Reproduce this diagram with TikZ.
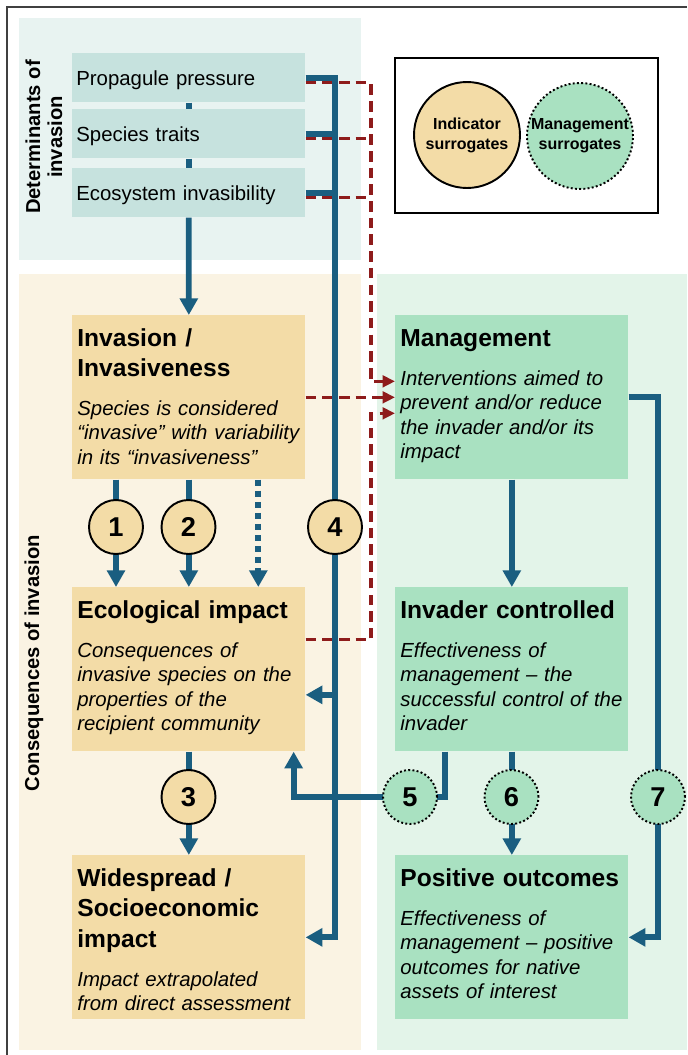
\documentclass[tikz,border=0pt]{standalone}
\usepackage{fontspec}
\setmainfont{Liberation Sans}
\usetikzlibrary{arrows.meta,calc}
\definecolor{flowblue}{HTML}{1A5E80}
\definecolor{depred}{HTML}{8E1B1B}
\definecolor{detbg}{HTML}{E8F3F1}
\definecolor{detbox}{HTML}{C6E2DE}
\definecolor{conbg}{HTML}{FAF3E3}
\definecolor{conbox}{HTML}{F3DCA7}
\definecolor{mgtbg}{HTML}{E3F4E9}
\definecolor{mgtbox}{HTML}{A9E1C1}
\pgfdeclarelayer{back}
\pgfdeclarelayer{wires}
\pgfsetlayers{back,wires,main}
\begin{document}
\begin{tikzpicture}[x=0.02cm,y=-0.02cm,line join=miter,
	>={Triangle[length=9.5pt,width=10pt]},
	flow/.style={draw=flowblue,line width=3.3pt},
	dep/.style={draw=depred,line width=1.8pt,dash pattern=on 6pt off 3.5pt,>={Triangle[length=7pt,width=6.5pt]}},
	detnode/.style={fill=detbox,anchor=north west,text width=4.5cm,align=left,inner xsep=0.08cm,inner ysep=0pt,minimum height=0.98cm,text height=8.3pt,text depth=0pt,font=\fontsize{11.6}{14}\selectfont},
	stage/.style={anchor=north west,minimum width=4.66cm,minimum height=3.28cm,inner sep=0pt},
	ttl/.style={anchor=base west,inner sep=0pt,text width=4.7cm,align=left,font=\fontsize{14}{17.5}\selectfont\bfseries},
	txt/.style={anchor=base west,inner sep=0pt,text width=4.7cm,align=left,font=\fontsize{11.6}{14}\selectfont\itshape},
	ind/.style={circle,draw=black,line width=1.1pt,fill=conbox,minimum size=1.08cm,inner sep=0pt,font=\fontsize{15.5}{16}\selectfont\bfseries},
	mng/.style={ind,fill=mgtbox,dash pattern=on 1.1pt off 1.3pt},
	keytext/.style={minimum size=2.12cm,align=center,font=\fontsize{9.1}{11.4}\selectfont\bfseries},
	side/.style={rotate=90,align=center,font=\fontsize{11.5}{12.5}\selectfont\bfseries}]
	\useasboundingbox (0,0) rectangle (687,1055);
	\begin{pgfonlayer}{back}
		\fill[detbg] (19,18) rectangle (361,260);
		\fill[conbg] (19,274) rectangle (361,1050);
		\fill[mgtbg] (377,274) rectangle (687,1050);
		\draw[line width=1.2pt,black!75] (7,1055) -- (7,7) -- (687,7);
	\end{pgfonlayer}
	
	\node[side] (detL) at (44,137) {Determinants of\\invasion};
	\node[side] (conL) at (34,663) {Consequences of invasion};
	
	\node[detnode] (pp) at (72,53) {Propagule pressure};
	\node[detnode] (st) at (72,109) {Species traits};
	\node[detnode] (ei) at (72,168) {Ecosystem invasibility};
	
	\node[draw,line width=1.3pt,minimum width=5.26cm,minimum height=3.1cm] (key) at (526.5,135.5) {};
	\node[ind,keytext] (indK) at (467,135) {Indicator\\surrogates};
	\node[mng,keytext] (mngK) at (580,136) {Management\\surrogates};
	
	\node[stage,fill=conbox] (inv) at (72,315) {};
	\node[stage,fill=conbox] (eco) at (72,587) {};
	\node[stage,fill=conbox] (wide) at (72,855) {};
	\node[stage,fill=mgtbox] (mgmt) at (395,315) {};
	\node[stage,fill=mgtbox] (ctrl) at (395,587) {};
	\node[stage,fill=mgtbox] (pos) at (395,855) {};
	
	\node[ttl] (invT) at ($(inv.north west)+(5,31)$) {Invasion /\\Invasiveness};
	\node[txt] (invB) at ($(inv.north west)+(5,100)$) {Species is considered\\``invasive'' with variability\\in its ``invasiveness''};
	\node[ttl] (ecoT) at ($(eco.north west)+(5,31)$) {Ecological impact};
	\node[txt] (ecoB) at ($(eco.north west)+(5,70)$) {Consequences of\\invasive species on the\\properties of the\\recipient community};
	\node[ttl] (wideT) at ($(wide.north west)+(5,31)$) {Widespread /\\Socioeconomic\\impact};
	\node[txt] (wideB) at ($(wide.north west)+(5,131)$) {Impact extrapolated\\from direct assessment};
	\node[ttl] (mgmtT) at ($(mgmt.north west)+(5,31)$) {Management};
	\node[txt] (mgmtB) at ($(mgmt.north west)+(5,70)$) {Interventions aimed to\\prevent and/or reduce\\the invader and/or its\\impact};
	\node[ttl] (ctrlT) at ($(ctrl.north west)+(5,31)$) {Invader controlled};
	\node[txt] (ctrlB) at ($(ctrl.north west)+(5,70)$) {Effectiveness of\\management -- the\\successful control of the\\invader};
	\node[ttl] (posT) at ($(pos.north west)+(5,31)$) {Positive outcomes};
	\node[txt] (posB) at ($(pos.north west)+(5,70)$) {Effectiveness of\\management -- positive\\outcomes for native\\assets of interest};
	
	\foreach \n/\x/\y in {1/116/527,2/188.5/527,4/335/527,3/188.5/797}
		\node[ind] (c\n) at (\x,\y) {\n};
	\foreach \n/\x/\y in {5/410/797,6/511.5/797,7/658/797}
		\node[mng] (c\n) at (\x,\y) {\n};
	
	\begin{pgfonlayer}{wires}
		\coordinate (rx) at (371,0);
		\draw[dep] ([yshift=-0.1cm]st.east) -- ([yshift=-0.1cm]st.east -| rx);
		\draw[dep] ([yshift=-0.1cm]ei.east) -- ([yshift=-0.1cm]ei.east -| rx);
		\draw[dep,->] ([yshift=-0.1cm]pp.east) -| ([yshift=0.32cm]mgmt.west -| rx) -- ([yshift=0.32cm]mgmt.west);
		\draw[dep,->] (inv.east) -- (mgmt.west);
		\draw[dep,->] ([yshift=0.59cm]eco.east) -| ([yshift=-0.32cm]mgmt.west -| rx) -- ([yshift=-0.32cm]mgmt.west);
		
		\draw[flow] (pp.south) -- (st.north) (st.south) -- (ei.north);
		\draw[flow,->] (ei.south) -- (inv.north);
		\draw[flow] (pp.east) -| (c4.center);
		\draw[flow] (st.east) -- (st.east -| c4);
		\draw[flow] (ei.east) -- (ei.east -| c4);
		\draw[flow,->] (c4.center) |- (wide.east);
		\draw[flow,->] ([yshift=-0.51cm]eco.east -| c4) -- ([yshift=-0.51cm]eco.east);
		\draw[flow,->] (inv.south -| c1) -- (eco.north -| c1);
		\draw[flow,->] (inv.south) -- (eco.north);
		\draw[flow,->,dash pattern=on 3.5pt off 2.8pt] ([xshift=1.39cm]inv.south) -- ([xshift=1.39cm]eco.north);
		\draw[flow,->] (eco.south) -- (wide.north);
		\draw[flow,->] (mgmt.south) -- (ctrl.north);
		\draw[flow,->] (ctrl.south) -- (pos.north);
		\draw[flow,->] (mgmt.east) -| (c7.center) |- (pos.east);
		\draw[flow,->] ([xshift=-1.33cm]ctrl.south) |- (c5.center) -- ([xshift=-0.24cm]eco.south east |- c5) -- ([xshift=-0.24cm]eco.south east);
	\end{pgfonlayer}
\end{tikzpicture}
\end{document}
